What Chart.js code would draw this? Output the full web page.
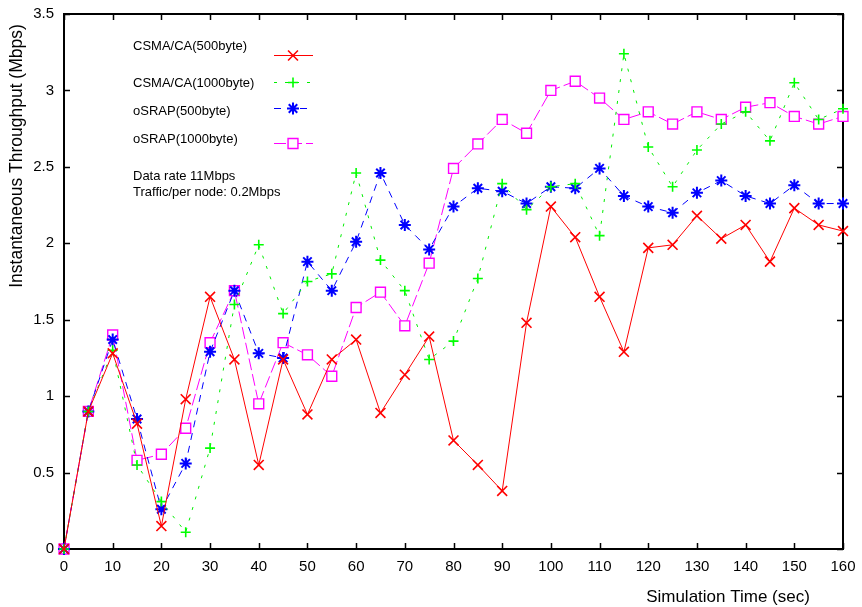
<!DOCTYPE html>
<html>
<head>
<meta charset="utf-8">
<script src="https://cdn.jsdelivr.net/npm/chart.js@4.4.1/dist/chart.umd.min.js"></script>
<style>
  html, body { margin: 0; padding: 0; background: #fff; }
  #wrap { width: 862px; height: 607px; }
</style>
</head>
<body>
<div id="wrap"><canvas id="throughput" width="862" height="607"></canvas></div>
<script>
// simulation time (sec)
const times = [0, 5, 10, 15, 20, 25, 30, 35, 40, 45, 50, 55, 60, 65, 70, 75, 80,
    85, 90, 95, 100, 105, 110, 115, 120, 125, 130, 135, 140, 145, 150, 155, 160];

// instantaneous throughput (Mbps)
const csma500 = [0, 0.90, 1.28, 0.82, 0.15, 0.98, 1.65, 1.24, 0.55, 1.24,
    0.88, 1.24, 1.37, 0.89, 1.14, 1.39, 0.71, 0.55, 0.38, 1.48,
    2.24, 2.04, 1.65, 1.29, 1.97, 1.99, 2.18, 2.03, 2.12, 1.88,
    2.23, 2.12, 2.08];
const csma1000 = [0, 0.90, 1.30, 0.55, 0.31, 0.11, 0.66, 1.60, 1.99, 1.54,
    1.75, 1.80, 2.46, 1.89, 1.69, 1.24, 1.36, 1.77, 2.39, 2.22,
    2.37, 2.39, 2.05, 3.24, 2.63, 2.37, 2.61, 2.78, 2.86, 2.67,
    3.05, 2.81, 2.88];
const osrap500 = [0, 0.90, 1.37, 0.85, 0.26, 0.56, 1.29, 1.69, 1.28, 1.25,
    1.88, 1.69, 2.01, 2.46, 2.12, 1.96, 2.24, 2.36, 2.34, 2.26,
    2.37, 2.36, 2.49, 2.31, 2.24, 2.20, 2.33, 2.41, 2.31, 2.26,
    2.38, 2.26, 2.26];
const osrap1000 = [0, 0.90, 1.40, 0.58, 0.62, 0.79, 1.35, 1.69, 0.95, 1.35,
    1.27, 1.13, 1.58, 1.68, 1.46, 1.87, 2.49, 2.65, 2.81, 2.72,
    3.00, 3.06, 2.95, 2.81, 2.86, 2.78, 2.86, 2.81, 2.89, 2.92,
    2.83, 2.78, 2.83];

const seriesNames = ['CSMA/CA(500byte)', 'CSMA/CA(1000byte)', 'oSRAP(500byte)', 'oSRAP(1000byte)'];
const noteLines = ['Data rate 11Mbps', 'Traffic/per node: 0.2Mbps'];
const xTitle = 'Simulation Time (sec)';
const yTitle = 'Instantaneous Throughput (Mbps)';

const FONT = '"Liberation Sans", Arial, Helvetica, sans-serif';

const styles = [
    { color: '#ff0000', dash: [], point: 'crossRot', radius: 7, lw: 1.6 },
    { color: '#00ee00', dash: [3, 8], point: 'cross', radius: 5, lw: 1.6 },
    { color: '#0000ff', dash: [7, 6], point: 'star', radius: 6, lw: 2 },
    { color: '#ff00ff', dash: [12, 4], point: 'rect', radius: 7, lw: 1.4 }
];
const allSeries = [csma500, csma1000, osrap500, osrap1000];

function toPoints(values) {
    return values.map(function (v, i) { return { x: times[i], y: v }; });
}

let datasets = allSeries.map(function (values, i) {
    let s = styles[i];
    return {
        label: seriesNames[i],
        data: toPoints(values),
        borderColor: s.color,
        borderWidth: 1,
        borderDash: s.dash,
        pointStyle: s.point,
        pointRadius: s.radius,
        pointBorderColor: i === 1 ? '#00ff00' : s.color,
        pointBackgroundColor: '#ffffff',
        pointBorderWidth: s.lw,
        tension: 0,
        clip: false
    };
});

function drawMarker(ctx, s, color, x, y) {
    let r = s.radius;
    ctx.save();
    ctx.strokeStyle = color;
    ctx.fillStyle = '#ffffff';
    ctx.lineWidth = s.lw;
    ctx.setLineDash([]);
    ctx.beginPath();
    if (s.point === 'cross' || s.point === 'star') {
        ctx.moveTo(x - r, y); ctx.lineTo(x + r, y);
        ctx.moveTo(x, y - r); ctx.lineTo(x, y + r);
    }
    if (s.point === 'crossRot' || s.point === 'star') {
        let d = r * Math.SQRT1_2;
        ctx.moveTo(x - d, y - d); ctx.lineTo(x + d, y + d);
        ctx.moveTo(x - d, y + d); ctx.lineTo(x + d, y - d);
    }
    if (s.point === 'rect') {
        let h = r * Math.SQRT1_2;
        ctx.rect(x - h, y - h, 2 * h, 2 * h);
        ctx.fill();
    }
    ctx.stroke();
    ctx.restore();
}

// frame with inward ticks on all four sides, gnuplot style
const framePlugin = {
    id: 'frame',
    beforeDatasetsDraw: function (chart) {
        let ctx = chart.ctx;
        let a = chart.chartArea;
        let xs = chart.scales.x, ys = chart.scales.y;
        ctx.save();
        ctx.strokeStyle = '#000';
        ctx.lineWidth = 1.5;
        ctx.beginPath();
        xs.ticks.forEach(function (t) {
            let px = Math.round(xs.getPixelForValue(t.value)) + 0.5;
            ctx.moveTo(px, a.bottom); ctx.lineTo(px, a.bottom - 6);
            ctx.moveTo(px, a.top); ctx.lineTo(px, a.top + 6);
        });
        ys.ticks.forEach(function (t) {
            let py = Math.round(ys.getPixelForValue(t.value)) + 0.5;
            ctx.moveTo(a.left, py); ctx.lineTo(a.left + 6, py);
            ctx.moveTo(a.right, py); ctx.lineTo(a.right - 6, py);
        });
        ctx.stroke();
        ctx.lineWidth = 2;
        ctx.strokeRect(a.left, a.top, a.right - a.left, a.bottom - a.top);
        ctx.restore();
    },
    afterDraw: function (chart) {
        let ctx = chart.ctx;
        ctx.save();
        ctx.fillStyle = '#000';
        ctx.textBaseline = 'middle';

        // axis titles
        ctx.textAlign = 'center';
        ctx.font = '17px ' + FONT;
        ctx.fillText(xTitle, 728, 597);
        ctx.save();
        ctx.translate(17, 156);
        ctx.rotate(-Math.PI / 2);
        ctx.font = '17.5px ' + FONT;
        ctx.fillText(yTitle, 0, 0);
        ctx.restore();

        // legend
        const textY = [46, 83, 111, 139];
        const lineY = [55, 82, 108, 143];
        ctx.font = '13px ' + FONT;
        ctx.textAlign = 'left';
        seriesNames.forEach(function (name, i) {
            let s = styles[i];
            ctx.fillStyle = '#000';
            ctx.fillText(name, 133, textY[i]);
            ctx.save();
            ctx.strokeStyle = s.color;
            ctx.lineWidth = 1;
            ctx.setLineDash(s.dash);
            ctx.beginPath();
            ctx.moveTo(274, lineY[i] + 0.5);
            ctx.lineTo(313, lineY[i] + 0.5);
            ctx.stroke();
            ctx.restore();
            drawMarker(ctx, s, i === 1 ? '#00ff00' : s.color, 293, lineY[i] + 0.5);
        });

        ctx.fillStyle = '#000';
        ctx.fillText(noteLines[0], 133, 176);
        ctx.fillText(noteLines[1], 133, 192);
        ctx.restore();
    }
};

let tickFont = { family: FONT, size: 15 };

let chart = new Chart(document.getElementById('throughput'), {
    type: 'line',
    data: { datasets: datasets },
    options: {
        responsive: false,
        animation: false,
        layout: { padding: { top: 14, right: 19, left: 0, bottom: 0 } },
        plugins: {
            legend: { display: false },
            tooltip: { enabled: false }
        },
        scales: {
            x: {
                type: 'linear',
                min: 0,
                max: 160,
                afterFit: function (s) {
                    s.height = 58;
                    s.paddingLeft = 0;
                    s.paddingRight = 0;
                },
                grid: { display: false, drawTicks: false },
                border: { display: false },
                ticks: { stepSize: 10, color: '#000', font: tickFont, padding: 9, maxRotation: 0, autoSkip: false }
            },
            y: {
                min: 0,
                max: 3.5,
                afterFit: function (s) {
                    s.width = 64;
                    s.paddingTop = 0;
                    s.paddingBottom = 0;
                },
                grid: { display: false, drawTicks: false },
                border: { display: false },
                ticks: {
                    stepSize: 0.5, color: '#000', font: tickFont, padding: 10,
                    callback: function (v) { return String(v); }
                }
            }
        }
    },
    plugins: [framePlugin]
});
</script>
</body>
</html>
